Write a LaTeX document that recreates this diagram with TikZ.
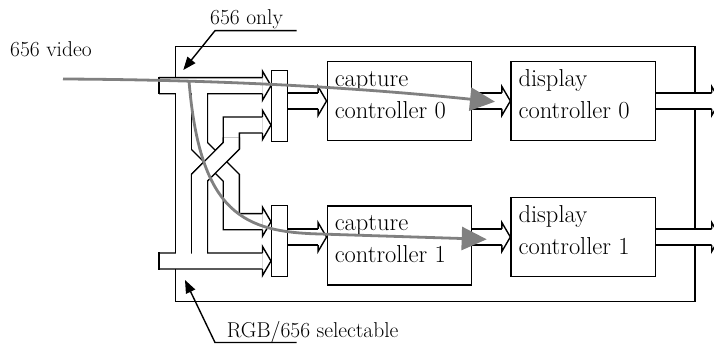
\documentclass[tikz,border=0pt]{standalone}
\usepackage{fontspec}
\usepackage{tikz}
\usetikzlibrary{arrows.meta, calc}

\definecolor{grigio}{RGB}{128,128,128}
\pgfdeclarelayer{sfondo}
\pgfsetlayers{sfondo,main}

\tikzset{
  bordo/.style={line width=1.4pt},
  blocco/.style={draw, fill=white, line width=1.4pt, inner sep=0pt},
  ctrl/.style={blocco, minimum width=144.5pt, minimum height=79pt},
  mux/.style={blocco, minimum width=15.6pt, minimum height=71pt},
  testo/.style={font=\fontsize{24.5}{32}\selectfont, align=left, inner sep=0pt, anchor=north west},
  etichetta/.style={font=\fontsize{21.5}{26}\selectfont, inner sep=0pt, anchor=base west},
  busnero/.style={line width=17.4pt, black, line join=miter},
  busbianco/.style={line width=14.6pt, white, line join=miter},
  grigia/.style={grigio, line width=2.8pt, -{Triangle[length=25pt, width=23pt]}},
  guida/.style={line width=1.4pt, -{Triangle[length=13pt, width=10pt]}},
  punta/.pic={\filldraw[fill=white, bordo, line join=miter] (-8.5,-8) -- (-8.5,-14.5) -- (0,0) -- (-8.5,14.5) -- (-8.5,8);}
}

\begin{document}
\begin{tikzpicture}[x=1pt, y=-1pt]
    \useasboundingbox (0,0) rectangle (714,347);

    % Blocchi
    \node[mux] (mux0) at (279.5,106.2) {};
    \node[mux] (mux1) at (279.5,241.2) {};
    \node[ctrl] (cap0) at (399.5,101) {};
    \node[ctrl] (cap1) at (399.5,245.5) {};
    \node[ctrl] (disp0) at (583.3,101.2) {};
    \node[ctrl] (disp1) at (583.3,237) {};

    \node[testo] (cap0t) at ($(cap0.west)+(8,-37.4)$) {\strut capture\\controller 0};
    \node[testo] (cap1t) at ($(cap1.west)+(8,-37.4)$) {\strut capture\\controller 1};
    \node[testo] (disp0t) at ($(disp0.west)+(8,-37.4)$) {\strut display\\controller 0};
    \node[testo] (disp1t) at ($(disp1.west)+(8,-37.4)$) {\strut display\\controller 1};

    % Righe dei bus
    \coordinate (i0) at (159,85.7);
    \coordinate (i1) at (159,261);
    \coordinate (x0) at (0,125);
    \coordinate (x1) at (0,221.7);
    \coordinate (r0) at (0,101);
    \coordinate (r1) at (0,237);
    \coordinate (u0) at (711.7,101);
    \coordinate (u1) at (711.7,237);

    \begin{pgfonlayer}{sfondo}
        % Riquadro esterno
        \draw[bordo] (175.7,46.5) rectangle (695,301.7);

        % Ingressi e incrocio
        \foreach \strato in {busnero,busbianco}
            \draw[\strato] (i0) -- ($(mux0.west |- i0)+(-8.5,0)$)
                (i1) -- ($(mux1.west |- i1)+(-8.5,0)$)
                (199.5,85.7) -- (199.5,146) -- (231.3,177.8) -- (231.3,221.7) -- ($(mux1.west |- x1)+(-8.5,0)$)
                (199.5,261) -- (199.5,177.6) -- (231.3,145.8) -- (231.3,125) -- ($(mux0.west |- x0)+(-8.5,0)$);
        \fill[white] (176.4,85.7) rectangle (190.8,261);
        \foreach \strato in {busnero,busbianco}
            \draw[\strato] (199.5,200) -- (199.5,177.6) -- (231.3,145.8) -- (231.3,137.5);
        \draw[bordo] (159,77) -- (159,94.4) (159,252.3) -- (159,269.7);

        % Uscite
        \foreach \strato in {busnero,busbianco}
            \draw[\strato] (mux0.east |- r0) -- ($(cap0.west |- r0)+(-8.5,0)$)
                (cap0.east |- r0) -- ($(disp0.west |- r0)+(-8.5,0)$)
                (disp0.east |- r0) -- (u0)
                (mux1.east |- r1) -- ($(cap1.west |- r1)+(-8.5,0)$)
                (cap1.east |- r1) -- ($(disp1.west |- r1)+(-8.5,0)$)
                (disp1.east |- r1) -- (u1);

        % Punte
        \foreach \n/\r in {mux0/i0, mux0/x0, mux1/x1, mux1/i1, cap0/r0, cap1/r1, disp0/r0, disp1/r1}
            \pic at (\n.west |- \r) {punta};
        \pic at ($(u0)+(8.5,0)$) {punta};
        \pic at ($(u1)+(8.5,0)$) {punta};
    \end{pgfonlayer}

    % Etichette
    \node[etichetta] (video) at (10,56.7) {656 video};
    \node[etichetta] (solo) at (210,25) {656 only};
    \node[etichetta] (sel) at (226.7,337.3) {RGB/656 selectable};

    % Percorsi grigi
    \coordinate (v0) at (63,79);
    \coordinate (v1) at (495,101.7);
    \draw[grigia] (v0) .. controls (250,80) and (380,90) .. (v1);
    \coordinate (g0) at (189,81);
    \coordinate (g1) at (486.7,239.3);
    \draw[grigia] (g0) .. controls (200,215) and (245,232) .. (320,234) -- (g1);

    % Frecce delle note
    \coordinate (o1) at (296.7,30.7);
    \coordinate (o2) at (215,30.7);
    \coordinate (o3) at (183.3,70);
    \draw[guida] (o1) -- (o2) -- (o3);
    \coordinate (s1) at (296.7,342.5);
    \coordinate (s2) at (215,342.5);
    \coordinate (s3) at (185,280);
    \draw[guida] (s1) -- (s2) -- (s3);
\end{tikzpicture}
\end{document}
